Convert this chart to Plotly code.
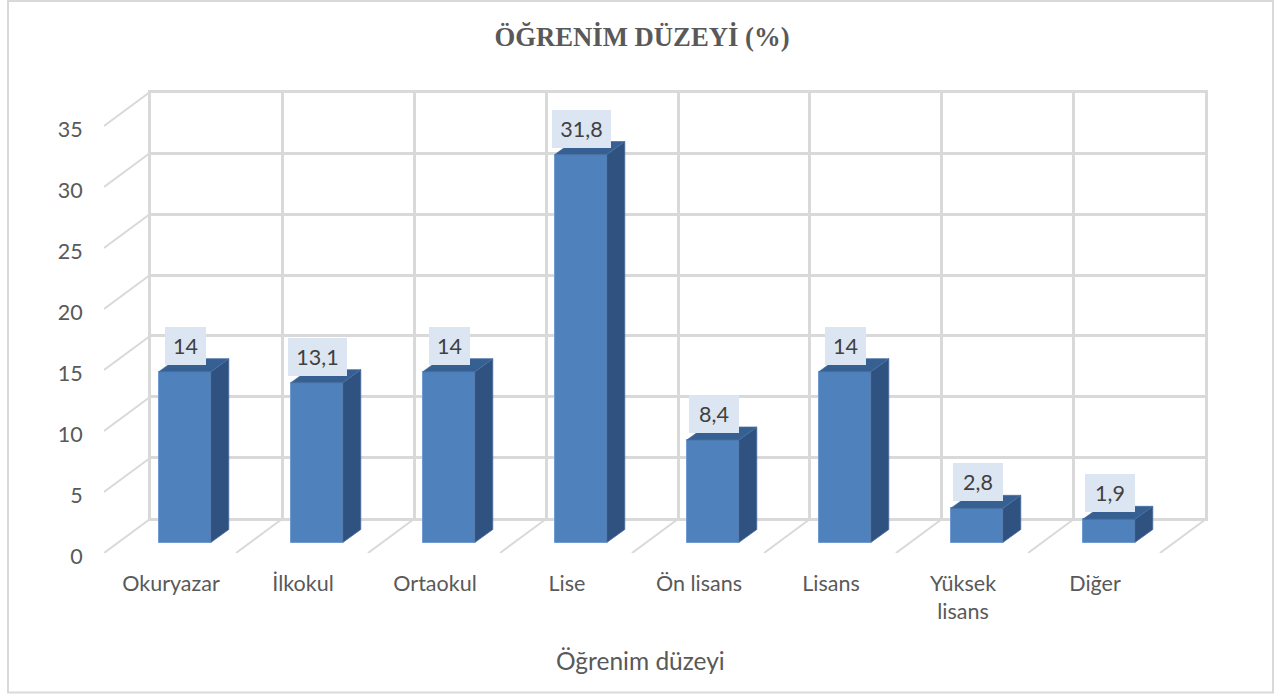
import plotly.graph_objects as go

categories = ["Okuryazar", "İlkokul", "Ortaokul", "Lise", "Ön lisans", "Lisans", "Yüksek<br>lisans", "Diğer"]
values = [14, 13.1, 14, 31.8, 8.4, 14, 2.8, 1.9]
y_ticks = [0, 5, 10, 15, 20, 25, 30, 35]
title_text = "<b>ÖĞRENİM DÜZEYİ (%)</b>"
x_title = "Öğrenim düzeyi"

# pixel geometry of the fake 3D box
W, H = 1280, 695
L, R, T, B = 104, 1206, 92, 553          # plot area (front floor corner to back wall top right)
CAT_PX, UNIT_PX = 132.0, 12.2            # one category / one value unit in pixels
WALL_DX, WALL_DY = 46.0, 34.0            # floor depth
BAR_INSET = 10.5                         # bar front plane above the front floor edge, px
BAR_SHIFT = 14.8                         # bar front plane right of the front floor edge, px
BAR_W = 52.0
BAR_DX, BAR_DY = 18.0, 13.0              # bar depth
LINE_W = 2.5

pw, ph = R - L, B - T
n = len(categories)
GRID = "#d9d9d9"
FONT = "Lato"

fig = go.Figure()

# back wall: native gridlines of the first axis pair
fig.add_trace(go.Scatter(x=[None], y=[None], xaxis="x", yaxis="y", showlegend=False, hoverinfo="skip"))

px_x = lambda p: p / CAT_PX
px_y = lambda p: p / UNIT_PX

# floor and side-wall diagonals, from the axis ticks
for i in range(n + 1):
    fig.add_trace(go.Scatter(x=[i, i + px_x(WALL_DX)], y=[0, px_y(WALL_DY)], xaxis="x2", yaxis="y2", mode="lines",
                             line=dict(color=GRID, width=2), showlegend=False, hoverinfo="skip"))
for t in y_ticks[1:]:
    fig.add_trace(go.Scatter(x=[0, px_x(WALL_DX)], y=[t, t + px_y(WALL_DY)], xaxis="x2", yaxis="y2", mode="lines",
                             line=dict(color=GRID, width=2), showlegend=False, hoverinfo="skip"))

base = px_y(BAR_INSET)
shift = px_x(BAR_SHIFT)
centers = [i + 0.5 + shift for i in range(n)]
bw = px_x(BAR_W)
dx, dy = px_x(BAR_DX), px_y(BAR_DY)

# front faces
fig.add_trace(go.Bar(x=centers, y=values, base=[base] * n, width=[bw] * n, xaxis="x2", yaxis="y2",
                     marker=dict(color="#4f81bd", line=dict(color="#6f9bd1", width=1)),
                     showlegend=False, hoverinfo="y"))

# side and top faces
for c, v in zip(centers, values):
    x0, x1 = c - bw / 2, c + bw / 2
    top = base + v
    fig.add_trace(go.Scatter(x=[x1, x1 + dx, x1 + dx, x1, x1], y=[base, base + dy, top + dy, top, base],
                             xaxis="x2", yaxis="y2", mode="lines", fill="toself", fillcolor="#2f5280",
                             line=dict(color="#4a6f9f", width=0.75), showlegend=False, hoverinfo="skip"))
    fig.add_trace(go.Scatter(x=[x0, x0 + dx, x1 + dx, x1, x0], y=[top, top + dy, top + dy, top, top],
                             xaxis="x2", yaxis="y2", mode="lines", fill="toself", fillcolor="#376092",
                             line=dict(color="#4a6f9f", width=0.75), showlegend=False, hoverinfo="skip"))

annotations = []
for c, v in zip(centers, values):
    label = str(v).replace(".", ",")
    annotations.append(dict(x=c, y=base + v, xref="x2", yref="y2", yshift=26, xshift=1, text=label, showarrow=False,
                            bgcolor="#dce6f2", borderpad=0, borderwidth=0, width=23 + 9 * len(label), height=38,
                            valign="middle", font=dict(family=FONT, size=21.5, color="#404040")))
annotations.append(dict(x=(640 - L) / pw, y=(B - 660) / ph, xref="paper", yref="paper", text=x_title, showarrow=False,
                        yanchor="middle", xanchor="center", font=dict(family=FONT, size=24.5, color="#595959")))

axis_common = dict(showgrid=True, gridcolor=GRID, gridwidth=LINE_W, zeroline=False, showline=True, linecolor=GRID,
                   linewidth=LINE_W, mirror=True, layer="below traces", showticklabels=False, ticks="", fixedrange=True)

fig.update_layout(
    width=W, height=H,
    margin=dict(l=L, r=W - R, t=T, b=H - B, pad=0, autoexpand=False),
    paper_bgcolor="white", plot_bgcolor="rgba(0,0,0,0)",
    title=dict(text=title_text, x=642 / W, xref="container", xanchor="center", y=1 - 37 / H, yref="container",
               yanchor="middle", font=dict(family="Liberation Serif", size=26.7, color="#595959")),
    bargap=0,
    xaxis=dict(domain=[(WALL_DX + LINE_W / 2) / pw, 1 - LINE_W / 2 / pw], range=[0, n], anchor="y",
               tickvals=list(range(n + 1)), **axis_common),
    yaxis=dict(domain=[(WALL_DY + LINE_W / 2) / ph, 1 - LINE_W / 2 / ph], range=[0, y_ticks[-1]], anchor="x",
               tickvals=y_ticks, **axis_common),
    xaxis2=dict(domain=[0, 1], range=[0, pw / CAT_PX], anchor="y2", tickvals=[i + 0.5 + px_x(1) for i in range(n)],
                ticktext=categories, ticks="outside", ticklen=11, tickcolor="rgba(0,0,0,0)", showgrid=False,
                zeroline=False, showline=False, fixedrange=True,
                tickfont=dict(family=FONT, size=21.5, color="#595959"), tickangle=0),
    yaxis2=dict(domain=[0, 1], range=[0, ph / UNIT_PX], anchor="x2", tickvals=y_ticks, ticks="outside", ticklen=16,
                ticklabelshift=3, tickcolor="rgba(0,0,0,0)", showgrid=False, zeroline=False, showline=False,
                fixedrange=True, tickfont=dict(family=FONT, size=21.5, color="#595959")),
    annotations=annotations,
    shapes=[dict(type="rect", xref="paper", yref="paper", x0=(8 - L) / pw, x1=(1273 - L) / pw,
                 y0=(B - 692.5) / ph, y1=(B - 1) / ph, line=dict(color=GRID, width=2), layer="below")],
)

fig.write_html("out.html", post_script="document.body.style.margin='0';document.body.style.overflow='hidden';",
               config={"displayModeBar": False})
